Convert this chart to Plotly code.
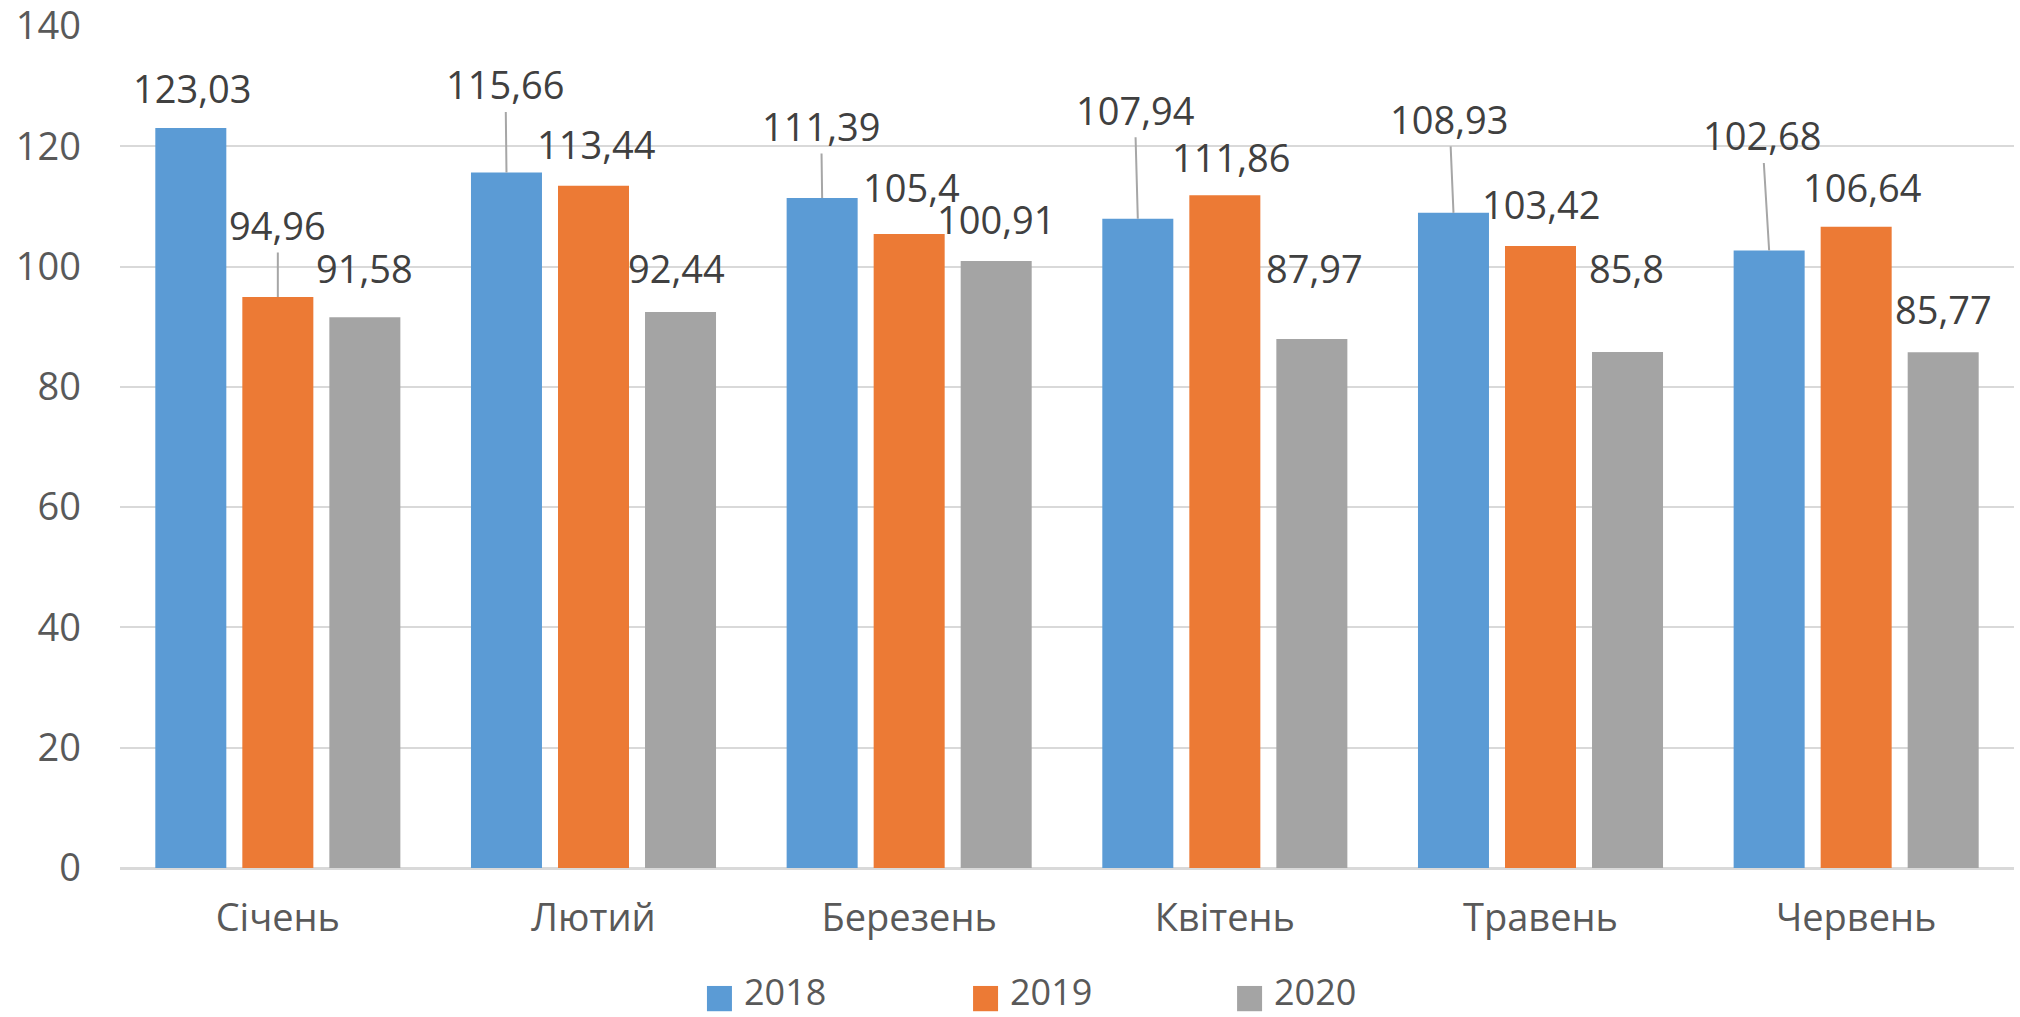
import plotly.graph_objects as go

months = ["Січень", "Лютий", "Березень", "Квітень", "Травень", "Червень"]
years = ["2018", "2019", "2020"]
v2018 = [123.03, 115.66, 111.39, 107.94, 108.93, 102.68]
v2019 = [94.96, 113.44, 105.4, 111.86, 103.42, 106.64]
v2020 = [91.58, 92.44, 100.91, 87.97, 85.8, 85.77]
y_ticks = [0, 20, 40, 60, 80, 100, 120, 140]

series = [v2018, v2019, v2020]
colors = ["#5b9bd5", "#ec7a35", "#a4a4a4"]

# label placement (pixel offsets from bar top) and leader-line flags, per series per month
label_dx = [[1, -1, -1, -3, -4, -7], [0, 2, 2, 6, 0, 6], [0, -4, 0, 3, -1, 0]]
label_dy = [[-40, -88, -72, -109, -94, -115], [-72, -42, -47, -38, -42, -40], [-49, -44, -42, -71, -84, -43]]
leader = [[False, True, True, True, True, True], [True, False, False, False, False, False], [False] * 6]

FONT = "Open Sans"
bargap = 0.173
bargroupgap = 0.184

fig = go.Figure()
for name, vals, col in zip(years, series, colors):
    fig.add_trace(go.Bar(x=months, y=vals, name=name, marker=dict(color=col, line=dict(width=0)),
                         showlegend=False))

slot = (1 - bargap) / len(series)
annotations = []
for k, vals in enumerate(series):
    for i, v in enumerate(vals):
        txt = f"{v:g}".replace(".", ",")
        annotations.append(dict(
            x=i + (k - 1) * slot, y=v, xref="x", yref="y", text=txt,
            showarrow=True, ax=label_dx[k][i], ay=label_dy[k][i], axref="pixel", ayref="pixel",
            arrowhead=0, arrowwidth=2, standoff=0, startstandoff=0,
            arrowcolor="#a6a6a6" if leader[k][i] else "rgba(0,0,0,0)",
            font=dict(family=FONT, size=38, color="#404040"),
        ))

# custom legend with large square swatches
shapes = []
leg_x = [0.3099, 0.4504, 0.5898]
for name, col, lx in zip(years, colors, leg_x):
    shapes.append(dict(type="rect", xref="paper", yref="paper", x0=lx, x1=lx + 0.0132,
                       y0=-0.1701, y1=-0.1401, fillcolor=col, line=dict(width=0)))
    annotations.append(dict(x=lx + 0.0185, y=-0.1470, xref="paper", yref="paper", text=name,
                            showarrow=False, xanchor="left", yanchor="middle",
                            font=dict(family=FONT, size=36, color="#595959")))

fig.update_layout(
    width=2020, height=1017,
    margin=dict(l=120, r=6, t=26, b=149),
    paper_bgcolor="white", plot_bgcolor="white",
    barmode="group", bargap=bargap, bargroupgap=bargroupgap,
    annotations=annotations, shapes=shapes,
    font=dict(family=FONT, size=38, color="#595959"),
)
fig.update_yaxes(range=[0, 140], tickvals=y_ticks, showgrid=True, gridcolor="#d9d9d9", gridwidth=2,
                 zeroline=True, zerolinecolor="#d9d9d9", zerolinewidth=3, automargin=False,
                 ticklabelstandoff=38, ticklabeloverflow="allow",
                 tickfont=dict(family=FONT, size=38, color="#595959"))
fig.update_xaxes(showline=False, ticklabelstandoff=24, automargin=False,
                 tickfont=dict(family=FONT, size=38, color="#595959"))

fig.write_html("out.html", config={"displayModeBar": False},
               post_script="document.body.style.margin='0';document.body.style.overflow='hidden';")
